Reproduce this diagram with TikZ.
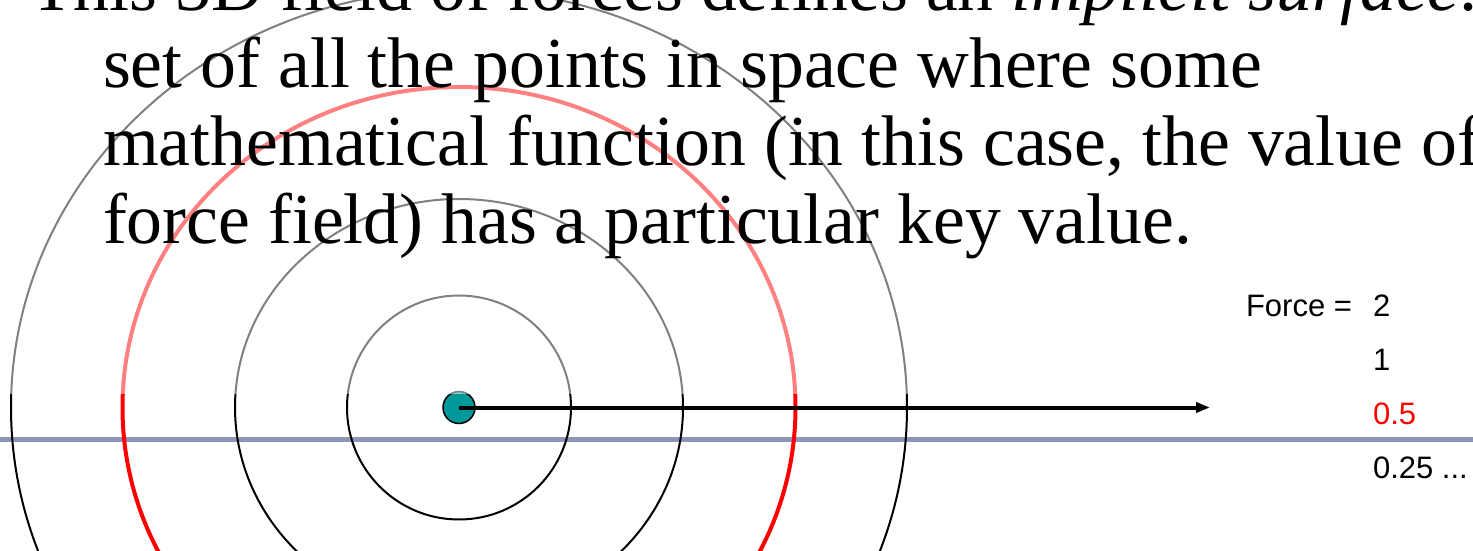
\documentclass[tikz,border=0pt]{standalone}
\usepackage{fontspec}
\setmainfont{Liberation Serif}
\newfontfamily\labelfont{Liberation Sans}
\usepackage{tikz}
\usetikzlibrary{arrows.meta}
\definecolor{fieldred}{RGB}{255,0,0}
\definecolor{chargeteal}{RGB}{0,153,153}
\definecolor{groundline}{RGB}{145,148,185}
\newcommand{\bodyfont}{\fontsize{35.85}{38.75}\selectfont}
\newcommand{\valfont}{\labelfont\fontsize{15.5}{18}\selectfont}

\begin{document}
\begin{tikzpicture}[x=0.5pt, y=-0.5pt, every node/.style={inner sep=0pt, outer sep=0pt}]
  \useasboundingbox (0,0) rectangle (1473,551);
  \clip (0,0) rectangle (1473,551);
  \draw[groundline, line width=2.5pt] (0,439) -- (1473,439);
  \coordinate (ctr) at (459,407.5);
  \foreach \rx/\ry in {112/112, 224/208.5, 448/418}
    \draw[line width=1pt] (ctr) ellipse[x radius=\rx, y radius=\ry];
  \draw[fieldred, line width=2pt] (ctr) ellipse[x radius=336.5, y radius=320.5];
  \node[circle, draw, fill=chargeteal, line width=0.75pt, minimum size=16pt] (charge) at (ctr) {};
  \coordinate (arrowend) at (1210,407.5);
  \draw[-{Triangle[length=7pt,width=5pt]}, line width=2pt] (charge.center) -- (arrowend);
  \fill[white, opacity=0.5] (0,0) rectangle (1473,394);
  \node[anchor=base west, font=\bodyfont] (t0) at (30,10.5) {This 3D field of forces defines an \textit{implicit surface:}};
  \node[anchor=base west, font=\bodyfont] (t1) at (103,88) {set of all the points in space where some};
  \node[anchor=base west, font=\bodyfont] (t2) at (103,165.5) {mathematical function (in this case, the value of};
  \node[anchor=base west, font=\bodyfont] (t3) at (103,243) {force field) has a particular key value.};
  \node[anchor=base east, font=\valfont] (flbl) at (1352,316.7) {Force =};
  \node[anchor=base west, font=\valfont] (v2) at (1373,316.7) {2};
  \node[anchor=base west, font=\valfont] (v1) at (1373,370.7) {1};
  \node[anchor=base west, font=\valfont, text=fieldred] (vhalf) at (1373,424.5) {0.5};
  \node[anchor=base west, font=\valfont] (vquarter) at (1373,478.5) {0.25 ...};
\end{tikzpicture}
\end{document}
